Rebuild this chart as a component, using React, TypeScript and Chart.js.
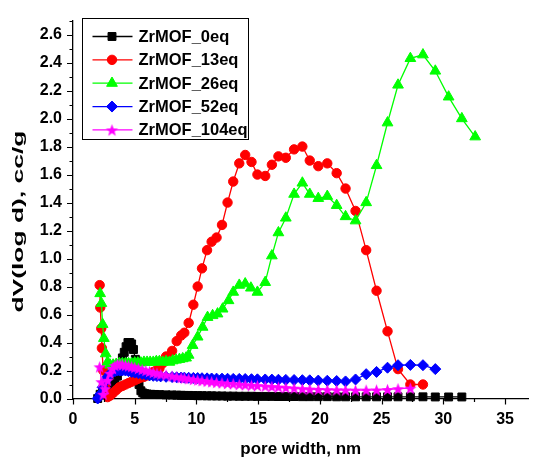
import React, { useEffect, useRef } from 'react';
import { Chart, registerables } from 'chart.js';

Chart.register(...registerables);

// ---------- data ----------
const seriesNames = ['ZrMOF_0eq', 'ZrMOF_13eq', 'ZrMOF_26eq', 'ZrMOF_52eq', 'ZrMOF_104eq'];
const seriesColors = ['#000000', '#ff0000', '#00ff00', '#0000ff', '#ff00ff'];

const x0eq = [2.0, 2.2, 2.4, 2.6, 2.8, 3.0, 3.2, 3.4, 3.6, 3.8, 4.0, 4.15, 4.3, 4.45, 4.6, 4.75, 4.9, 5.05, 5.2, 5.35, 5.5, 5.65, 5.8, 6.0, 6.3, 6.6, 7.0, 7.54, 8.03, 8.4, 8.76, 9.02, 9.37, 9.75, 10.1, 10.45, 10.86, 11.23, 11.63, 12.07, 12.52, 12.98, 13.47, 13.95, 14.46, 14.94, 15.57, 16.11, 16.64, 17.24, 17.91, 18.58, 19.18, 19.87, 20.6, 21.36, 22.08, 22.89, 23.75, 24.59, 25.48, 26.33, 27.33, 28.35, 29.35, 30.43, 31.5];
const y0eq = [0.0, 0.03, 0.05, 0.06, 0.07, 0.08, 0.10, 0.13, 0.16, 0.21, 0.29, 0.33, 0.37, 0.40, 0.40, 0.39, 0.35, 0.28, 0.18, 0.10, 0.055, 0.04, 0.035, 0.032, 0.03, 0.029, 0.028, 0.026, 0.025, 0.024, 0.023, 0.022, 0.022, 0.021, 0.02, 0.02, 0.019, 0.019, 0.018, 0.018, 0.017, 0.017, 0.016, 0.016, 0.016, 0.015, 0.015, 0.015, 0.014, 0.014, 0.014, 0.013, 0.013, 0.013, 0.013, 0.012, 0.012, 0.012, 0.012, 0.012, 0.012, 0.012, 0.012, 0.012, 0.011, 0.011, 0.011];

const x13eq = [2.16, 2.21, 2.29, 2.34, 2.45, 2.6, 2.8, 3.0, 3.25, 3.5, 3.75, 4.0, 4.25, 4.5, 4.75, 5.0, 5.25, 5.5, 5.75, 6.0, 6.25, 6.5, 6.75, 7.0, 7.25, 7.54, 8.03, 8.4, 8.76, 9.02, 9.37, 9.75, 10.1, 10.45, 10.86, 11.23, 11.63, 12.07, 12.52, 12.98, 13.47, 13.95, 14.46, 14.94, 15.57, 16.11, 16.64, 17.24, 17.91, 18.58, 19.18, 19.87, 20.6, 21.36, 22.08, 22.89, 23.75, 24.59, 25.48, 26.33, 27.33, 28.35];
const y13eq = [0.81, 0.65, 0.50, 0.36, 0.20, 0.08, 0.01, 0.02, 0.04, 0.06, 0.08, 0.09, 0.10, 0.11, 0.12, 0.13, 0.14, 0.15, 0.155, 0.165, 0.175, 0.19, 0.20, 0.215, 0.25, 0.30, 0.34, 0.41, 0.45, 0.47, 0.54, 0.67, 0.80, 0.93, 1.06, 1.12, 1.15, 1.24, 1.40, 1.55, 1.68, 1.74, 1.69, 1.60, 1.59, 1.67, 1.73, 1.72, 1.78, 1.80, 1.70, 1.66, 1.68, 1.61, 1.50, 1.34, 1.06, 0.77, 0.48, 0.21, 0.10, 0.10];

const x26eq = [2.2, 2.3, 2.4, 2.5, 2.65, 2.8, 3.0, 3.25, 3.5, 3.75, 4.0, 4.25, 4.5, 4.75, 5.0, 5.25, 5.5, 5.75, 6.0, 6.25, 6.5, 6.75, 7.0, 7.27, 7.54, 7.81, 8.08, 8.35, 8.62, 8.89, 9.16, 9.37, 9.69, 10.1, 10.5, 10.9, 11.31, 11.71, 12.12, 12.6, 12.98, 13.47, 13.95, 14.41, 14.94, 15.57, 16.11, 16.64, 17.24, 17.91, 18.58, 19.18, 19.87, 20.6, 21.36, 22.08, 22.89, 23.75, 24.59, 25.48, 26.33, 27.33, 28.35, 29.35, 30.43, 31.5, 32.58];
const y26eq = [0.75, 0.68, 0.53, 0.43, 0.32, 0.26, 0.24, 0.24, 0.245, 0.25, 0.25, 0.25, 0.25, 0.25, 0.255, 0.255, 0.255, 0.26, 0.26, 0.26, 0.26, 0.265, 0.265, 0.26, 0.265, 0.26, 0.27, 0.275, 0.28, 0.285, 0.29, 0.31, 0.38, 0.44, 0.51, 0.58, 0.593, 0.605, 0.64, 0.70, 0.76, 0.81, 0.82, 0.79, 0.76, 0.83, 1.02, 1.185, 1.29, 1.46, 1.54, 1.46, 1.43, 1.445, 1.38, 1.30, 1.27, 1.40, 1.665, 1.97, 2.24, 2.43, 2.456, 2.34, 2.155, 2.0, 1.87];

const x52eq = [2.0, 2.2, 2.4, 2.6, 2.8, 3.0, 3.2, 3.4, 3.6, 3.8, 4.0, 4.25, 4.5, 4.75, 5.0, 5.3, 5.6, 5.9, 6.2, 6.5, 6.8, 7.1, 7.54, 8.03, 8.4, 8.76, 9.02, 9.37, 9.75, 10.1, 10.45, 10.86, 11.23, 11.63, 12.07, 12.52, 12.98, 13.47, 13.95, 14.46, 14.94, 15.57, 16.11, 16.64, 17.24, 17.91, 18.58, 19.18, 19.87, 20.6, 21.36, 22.08, 22.89, 23.75, 24.59, 25.48, 26.33, 27.33, 28.35, 29.35];
const y52eq = [0.0, 0.03, 0.08, 0.12, 0.155, 0.175, 0.19, 0.195, 0.2, 0.2, 0.2, 0.2, 0.195, 0.19, 0.185, 0.18, 0.175, 0.17, 0.165, 0.162, 0.16, 0.158, 0.155, 0.153, 0.151, 0.15, 0.149, 0.148, 0.147, 0.146, 0.145, 0.144, 0.143, 0.142, 0.142, 0.141, 0.14, 0.14, 0.139, 0.138, 0.137, 0.136, 0.135, 0.134, 0.133, 0.132, 0.131, 0.13, 0.128, 0.127, 0.125, 0.122, 0.136, 0.174, 0.19, 0.22, 0.238, 0.24, 0.238, 0.21];

const x104eq = [2.16, 2.3, 2.45, 2.6, 2.8, 3.0, 3.2, 3.4, 3.6, 3.8, 4.0, 4.25, 4.5, 4.75, 5.0, 5.3, 5.6, 5.9, 6.2, 6.5, 6.8, 7.1, 7.54, 8.03, 8.4, 8.76, 9.02, 9.37, 9.75, 10.1, 10.45, 10.86, 11.23, 11.63, 12.07, 12.52, 12.98, 13.47, 13.95, 14.46, 14.94, 15.57, 16.11, 16.64, 17.24, 17.91, 18.58, 19.18, 19.87, 20.6, 21.36, 22.08, 22.89, 23.75, 24.59, 25.48, 26.33, 27.33];
const y104eq = [0.226, 0.12, 0.03, 0.07, 0.13, 0.18, 0.215, 0.235, 0.245, 0.245, 0.242, 0.238, 0.233, 0.228, 0.222, 0.215, 0.208, 0.2, 0.193, 0.186, 0.18, 0.174, 0.168, 0.16, 0.155, 0.15, 0.146, 0.142, 0.137, 0.133, 0.128, 0.124, 0.12, 0.116, 0.112, 0.108, 0.105, 0.101, 0.098, 0.095, 0.092, 0.088, 0.085, 0.082, 0.078, 0.074, 0.07, 0.067, 0.065, 0.063, 0.062, 0.061, 0.06, 0.06, 0.061, 0.064, 0.07, 0.074];

const xTickValues = [0, 5, 10, 15, 20, 25, 30, 35];
const xMinorTickValues = [2.5, 7.5, 12.5, 17.5, 22.5, 27.5, 32.5];
const yTickValues = [0, 0.2, 0.4, 0.6, 0.8, 1.0, 1.2, 1.4, 1.6, 1.8, 2.0, 2.2, 2.4, 2.6];
const yMinorTickValues = [0.1, 0.3, 0.5, 0.7, 0.9, 1.1, 1.3, 1.5, 1.7, 1.9, 2.1, 2.3, 2.5, 2.7];

const xTitle = 'pore width, nm';
const yTitle = 'dV(log d), cc/g';

const FONT_FAMILY = '"Liberation Sans", Arial, sans-serif';

function makeStar(color: string, outer: number, inner: number): HTMLCanvasElement {
  const size = Math.ceil(outer * 2 + 2);
  const c = document.createElement('canvas');
  c.width = size;
  c.height = size;
  const g = c.getContext('2d')!;
  const cx = size / 2;
  const cy = size / 2 + outer * 0.1;
  g.beginPath();
  for (let i = 0; i < 10; i++) {
    const r = i % 2 === 0 ? outer : inner;
    const a = -Math.PI / 2 + (i * Math.PI) / 5;
    const px = cx + r * Math.cos(a);
    const py = cy + r * Math.sin(a);
    if (i === 0) g.moveTo(px, py);
    else g.lineTo(px, py);
  }
  g.closePath();
  g.fillStyle = color;
  g.fill();
  return c;
}

function drawMarker(ctx: CanvasRenderingContext2D, style: any, x: number, y: number, r: number, color: string) {
  ctx.save();
  ctx.fillStyle = color;
  ctx.strokeStyle = color;
  ctx.lineWidth = 1;
  ctx.beginPath();
  if (typeof style !== 'string') {
    ctx.drawImage(style, x - style.width / 2, y - style.height / 2);
    ctx.restore();
    return;
  }
  if (style === 'rect') {
    const s = Math.SQRT1_2 * r;
    ctx.rect(x - s, y - s, 2 * s, 2 * s);
  } else if (style === 'circle') {
    ctx.arc(x, y, r, 0, Math.PI * 2);
  } else if (style === 'triangle') {
    for (let i = 0; i < 3; i++) {
      const a = (i * 2 * Math.PI) / 3;
      const px = x + Math.sin(a) * r;
      const py = y - Math.cos(a) * r;
      if (i === 0) ctx.moveTo(px, py);
      else ctx.lineTo(px, py);
    }
    ctx.closePath();
  } else if (style === 'rectRot') {
    ctx.moveTo(x - r, y);
    ctx.lineTo(x, y - r);
    ctx.lineTo(x + r, y);
    ctx.lineTo(x, y + r);
    ctx.closePath();
  }
  ctx.fill();
  ctx.stroke();
  ctx.restore();
}

export default function App() {
  const ref = useRef<HTMLCanvasElement>(null);

  useEffect(() => {
    const canvas = ref.current;
    if (!canvas) return;
    const star = makeStar('#ff00ff', 6.5, 2.7);

    const xs = [x0eq, x13eq, x26eq, x52eq, x104eq];
    const ys = [y0eq, y13eq, y26eq, y52eq, y104eq];
    const styles: any[] = ['rect', 'circle', 'triangle', 'rectRot', star];
    const radii = [5.6, 4.7, 6.2, 5.5, 6.5];
    const orders = [5, 4, 3, 2, 1];

    const datasets = seriesNames.map((name, i) => ({
      label: name,
      data: xs[i].map((x, j) => ({ x, y: ys[i][j] })),
      showLine: true,
      borderColor: seriesColors[i],
      backgroundColor: seriesColors[i],
      borderWidth: 1.3,
      pointStyle: styles[i],
      pointRadius: radii[i],
      pointBorderWidth: 1,
      pointBorderColor: seriesColors[i],
      pointBackgroundColor: seriesColors[i],
      tension: 0,
      clip: false as any,
      order: orders[i],
    }));

    const tickPlugin = {
      id: 'originTicks',
      afterDraw(chart: any) {
        const ctx = chart.ctx as CanvasRenderingContext2D;
        const xs_ = chart.scales.x;
        const ys_ = chart.scales.y;
        const area = chart.chartArea;
        ctx.save();
        ctx.strokeStyle = '#000';
        ctx.lineWidth = 1.2;
        ctx.beginPath();
        const drawX = (v: number, len: number) => {
          const px = Math.round(xs_.getPixelForValue(v)) + 0.5;
          if (px > area.right + 1) return;
          ctx.moveTo(px, area.bottom);
          ctx.lineTo(px, area.bottom + len);
        };
        const drawY = (v: number, len: number) => {
          const py = Math.round(ys_.getPixelForValue(v)) + 0.5;
          ctx.moveTo(area.left, py);
          ctx.lineTo(area.left - len, py);
        };
        xTickValues.forEach((v) => drawX(v, 6));
        xMinorTickValues.forEach((v) => drawX(v, 3.5));
        yTickValues.forEach((v) => drawY(v, 6));
        yMinorTickValues.forEach((v) => drawY(v, 3.5));
        ctx.stroke();

        // y-axis title (stretched along its direction like the original export)
        ctx.save();
        ctx.font = `bold 15px ${FONT_FAMILY}`;
        const tw = ctx.measureText(yTitle).width;
        const targetLen = 182;
        const midY = (area.top + area.bottom) / 2 + 12;
        ctx.translate(19, midY);
        ctx.rotate(-Math.PI / 2);
        ctx.scale(targetLen / tw, 1);
        ctx.fillStyle = '#000';
        ctx.textAlign = 'center';
        ctx.textBaseline = 'middle';
        ctx.fillText(yTitle, 0, 0);
        ctx.restore();

        ctx.restore();
      },
    };

    const legendPlugin = {
      id: 'originLegend',
      afterDraw(chart: any) {
        const ctx = chart.ctx as CanvasRenderingContext2D;
        const area = chart.chartArea;
        const left = Math.round(area.left + 9) + 0.5;
        const top = Math.round(area.top - 3) + 0.5;
        const w = 166;
        const h = 121;
        ctx.save();
        ctx.fillStyle = '#ffffff';
        ctx.fillRect(left, top, w, h);
        ctx.strokeStyle = '#000';
        ctx.lineWidth = 1;
        ctx.strokeRect(left, top, w, h);
        seriesNames.forEach((name, i) => {
          const cy = top + 18 + i * 23.35;
          const color = seriesColors[i];
          ctx.strokeStyle = color;
          ctx.lineWidth = 1.3;
          ctx.beginPath();
          ctx.moveTo(left + 10, cy);
          ctx.lineTo(left + 50, cy);
          ctx.stroke();
          drawMarker(ctx, styles[i], left + 29.5, cy, radii[i], color);
          ctx.fillStyle = '#000';
          ctx.font = `bold 16.5px ${FONT_FAMILY}`;
          ctx.textBaseline = 'middle';
          ctx.textAlign = 'left';
          ctx.fillText(name, left + 56, cy + 1);
        });
        ctx.restore();
      },
    };

    const chart = new Chart(canvas, {
      type: 'scatter',
      data: { datasets: datasets as any },
      options: {
        animation: false,
        responsive: false,
        maintainAspectRatio: false,
        layout: { padding: { top: 18, right: 0, left: 0, bottom: 0 } },
        plugins: {
          legend: { display: false },
          tooltip: { enabled: false },
        },
        scales: {
          x: {
            type: 'linear',
            min: 0,
            max: 36.9,
            afterBuildTicks: (s: any) => {
              s.ticks = xTickValues.map((v) => ({ value: v }));
            },
            afterFit: (s: any) => {
              s.height = 59.5;
              s.paddingRight = 0;
              s.paddingLeft = 0;
            },
            grid: { display: false, drawTicks: false },
            border: { display: true, color: '#000', width: 1.3 },
            ticks: {
              color: '#000',
              padding: 11,
              maxRotation: 0,
              autoSkip: false,
              font: { family: FONT_FAMILY, size: 16, weight: 'bold' },
              callback: (v: any) => String(v),
            },
            title: {
              display: true,
              text: xTitle,
              color: '#000',
              font: { family: FONT_FAMILY, size: 17, weight: 'bold', lineHeight: 1 },
              padding: { top: 0, bottom: 0 },
            },
          },
          y: {
            type: 'linear',
            min: 0,
            max: 2.7,
            afterBuildTicks: (s: any) => {
              s.ticks = yTickValues.map((v) => ({ value: v }));
            },
            afterFit: (s: any) => {
              s.width = 73;
            },
            grid: { display: false, drawTicks: false },
            border: { display: true, color: '#000', width: 1.3 },
            ticks: {
              color: '#000',
              padding: 11,
              autoSkip: false,
              font: { family: FONT_FAMILY, size: 16, weight: 'bold' },
              callback: (v: any) => Number(v).toFixed(1),
            },
            title: { display: false },
          },
        },
      },
      plugins: [tickPlugin, legendPlugin],
    });

    return () => chart.destroy();
  }, []);

  return (
    <div style={{ position: 'fixed', left: 0, top: 0, width: 536, height: 458, background: '#fff' }}>
      <canvas ref={ref} width={536} height={458} style={{ display: 'block', width: 536, height: 458 }} />
    </div>
  );
}
